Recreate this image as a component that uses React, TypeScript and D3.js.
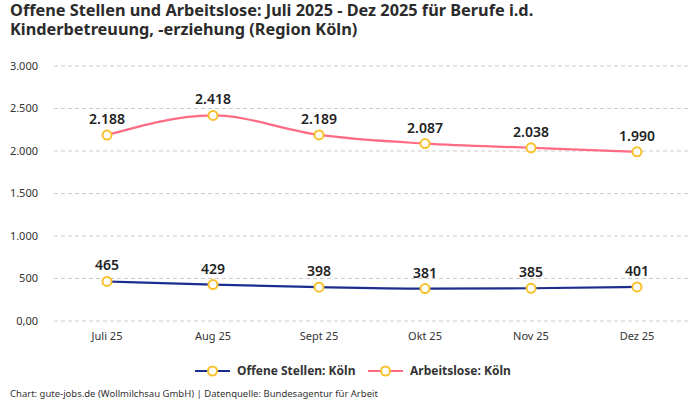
import React from "react";
import * as d3 from "d3";

const months = ["Juli 25", "Aug 25", "Sept 25", "Okt 25", "Nov 25", "Dez 25"];
const offeneStellen = [465, 429, 398, 381, 385, 401];
const arbeitslose = [2188, 2418, 2189, 2087, 2038, 1990];
const yTicks = [0, 500, 1000, 1500, 2000, 2500, 3000];
const yTickLabels = ["0,00", "500", "1.000", "1.500", "2.000", "2.500", "3.000"];
const valueLabelsOffene = ["465", "429", "398", "381", "385", "401"];
const valueLabelsArbeit = ["2.188", "2.418", "2.189", "2.087", "2.038", "1.990"];

const titleLines = [
  "Offene Stellen und Arbeitslose: Juli 2025 - Dez 2025 für Berufe i.d.",
  "Kinderbetreuung, -erziehung (Region Köln)",
];
const seriesNames = ["Offene Stellen: Köln", "Arbeitslose: Köln"];
const colors = ["#1b2d8f", "#ff6b85"];
const markerColor = "#f8c12c";
const FONT = "'Noto Sans', 'Open Sans', sans-serif";

export default function App() {
  const W = 700, H = 400;
  const x = d3.scalePoint<string>().domain(months).range([54, 690]).padding(0.5);
  const y = d3.scaleLinear().domain([0, 3000]).range([321, 66]);
  const line = d3
    .line<number>()
    .x((_, i) => x(months[i]) as number)
    .y((d) => y(d))
    .curve(d3.curveMonotoneX);

  const series = [
    { vals: offeneStellen, labels: valueLabelsOffene, color: colors[0] },
    { vals: arbeitslose, labels: valueLabelsArbeit, color: colors[1] },
  ];

  return (
    <svg
      width={W}
      height={H}
      style={{ position: "absolute", left: 0, top: 0, background: "#fff" }}
      fontFamily={FONT}
    >
      <text x={10} y={15.5} fontSize={16.3} fontWeight={700} fill="#2b2b2b">
        {titleLines.map((t, i) => (
          <tspan key={i} x={10} dy={i === 0 ? 0 : 19.5}>
            {t}
          </tspan>
        ))}
      </text>

      {yTicks.map((t, i) => (
        <g key={t}>
          <line
            x1={54}
            x2={690}
            y1={y(t)}
            y2={y(t)}
            stroke="#ccc"
            strokeDasharray="4,3"
            strokeWidth={1}
          />
          <text
            x={38}
            y={y(t)}
            dy="0.35em"
            textAnchor="end"
            fontSize={11}
            fill="#333"
          >
            {yTickLabels[i]}
          </text>
        </g>
      ))}

      {months.map((m) => (
        <text
          key={m}
          x={x(m)}
          y={340}
          textAnchor="middle"
          fontSize={11}
          fill="#333"
        >
          {m}
        </text>
      ))}

      {series.map((s, si) => (
        <g key={si}>
          <path d={line(s.vals) || ""} fill="none" stroke={s.color} strokeWidth={2.2} />
          {s.vals.map((v, i) => (
            <g key={i}>
              <circle
                cx={x(months[i])}
                cy={y(v)}
                r={4.5}
                fill="#fff"
                stroke={markerColor}
                strokeWidth={2}
              />
              <text
                x={x(months[i])}
                y={y(v) - 11}
                textAnchor="middle"
                fontSize={14}
                fontWeight={600}
                fill="#222"
              >
                {s.labels[i]}
              </text>
            </g>
          ))}
        </g>
      ))}

      {seriesNames.map((n, i) => {
        const lx = i === 0 ? 195 : 368;
        return (
          <g key={n}>
            <line x1={lx} x2={lx + 35} y1={371} y2={371} stroke={colors[i]} strokeWidth={2.2} />
            <circle cx={lx + 17.5} cy={371} r={4.5} fill="#fff" stroke={markerColor} strokeWidth={2} />
            <text x={lx + 42} y={371} dy="0.35em" fontSize={12} fontWeight={700} fill="#333">
              {n}
            </text>
          </g>
        );
      })}

      <text x={10} y={397} fontSize={9.5} fill="#333">
        Chart: gute-jobs.de (Wollmilchsau GmbH) | Datenquelle: Bundesagentur für Arbeit
      </text>
    </svg>
  );
}
